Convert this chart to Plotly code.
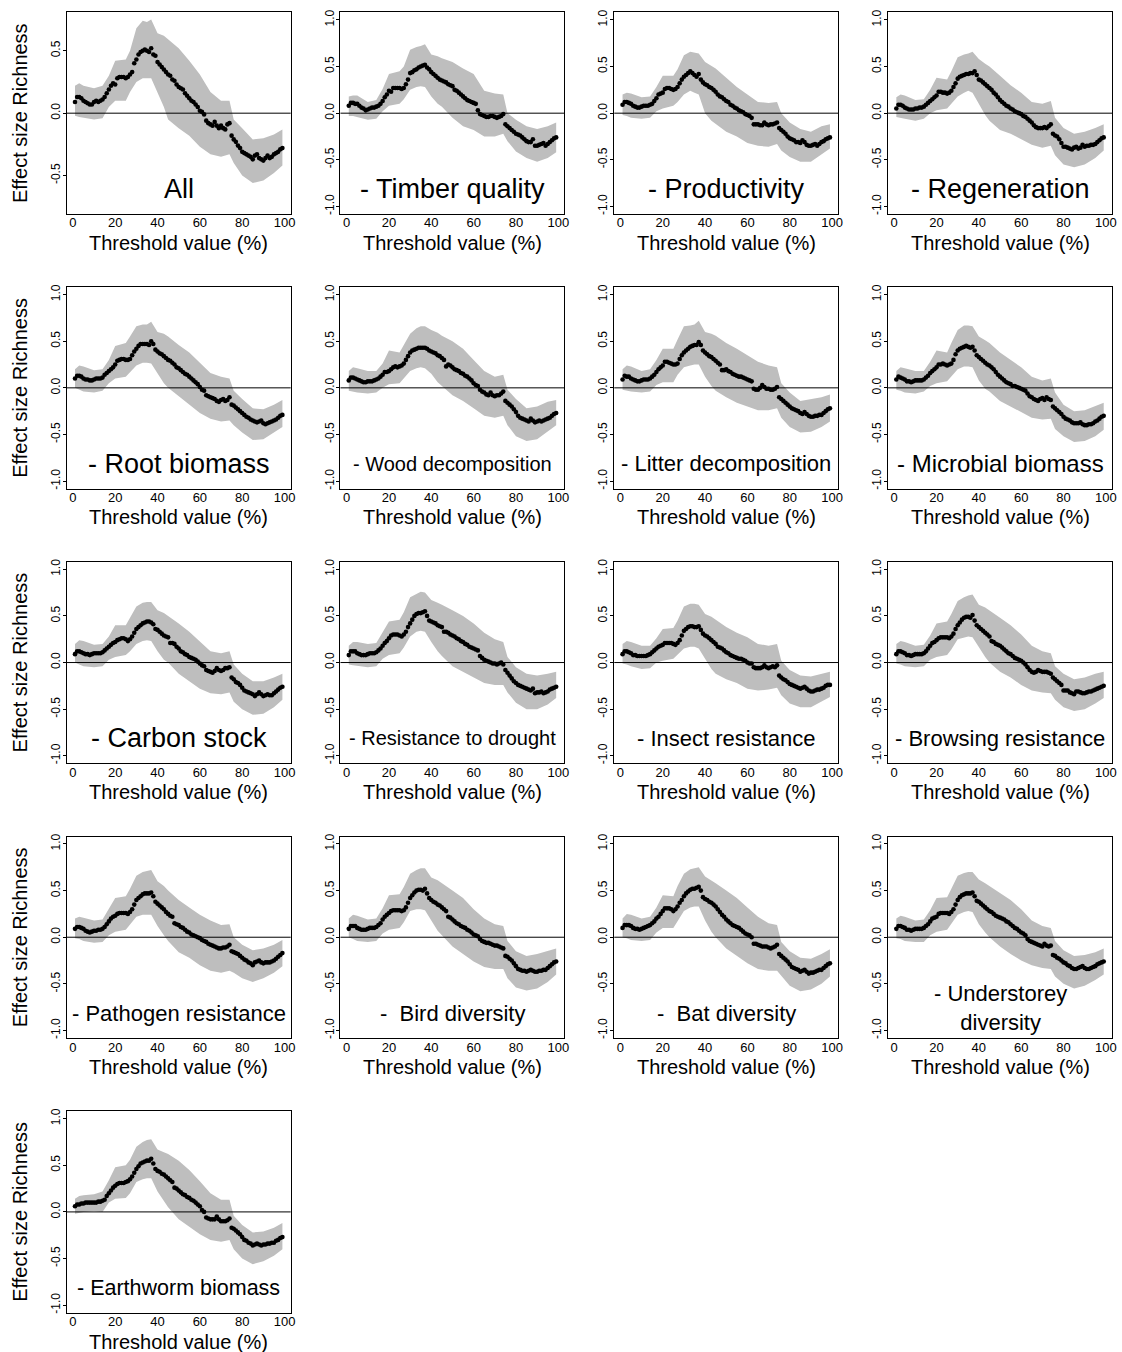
import plotly.graph_objects as go

# ---------------- data ----------------
THRESHOLDS = list(range(1, 100))
RIBBON_X = [1, 3, 5, 10, 14, 17, 20, 25, 27, 30, 33, 35, 37, 40, 43, 45,
            50, 55, 60, 65, 70, 74, 76, 80, 85, 90, 95, 99]
X_TICKS = [0, 20, 40, 60, 80, 100]
Y_TICKS_FIRST = [-0.5, 0.0, 0.5]
Y_TICKS = [-1.0, -0.5, 0.0, 0.5, 1.0]

LABELS = ["All", "- Timber quality", "- Productivity", "- Regeneration",
          "- Root biomass", "- Wood decomposition", "- Litter decomposition",
          "- Microbial biomass", "- Carbon stock", "- Resistance to drought",
          "- Insect resistance", "- Browsing resistance", "- Pathogen resistance",
          "-  Bird diversity", "-  Bat diversity", "- Understorey<br>diversity",
          "- Earthworm biomass"]

MEAN_ALL = [0.09,0.13,0.13,0.12,0.10,0.09,0.08,0.07,0.07,0.09,
            0.10,0.09,0.10,0.11,0.13,0.16,0.19,0.22,0.24,0.23,
            0.28,0.29,0.29,0.29,0.28,0.29,0.31,0.33,0.40,0.43,
            0.47,0.49,0.50,0.51,0.50,0.49,0.52,0.47,0.46,0.41,
            0.39,0.37,0.35,0.33,0.31,0.30,0.27,0.26,0.23,0.21,
            0.20,0.19,0.16,0.14,0.12,0.10,0.09,0.07,0.05,0.02,
            0.01,-0.01,-0.06,-0.08,-0.09,-0.10,-0.07,-0.10,-0.12,-0.10,
            -0.12,-0.13,-0.09,-0.08,-0.18,-0.21,-0.23,-0.26,-0.28,-0.31,
            -0.32,-0.33,-0.34,-0.35,-0.37,-0.34,-0.33,-0.36,-0.37,-0.38,
            -0.36,-0.34,-0.36,-0.35,-0.33,-0.32,-0.31,-0.29,-0.28]
HI_ALL = [0.22,0.24,0.22,0.20,0.22,0.30,0.42,0.43,0.50,0.68,0.74,0.73,0.75,0.64,
          0.62,0.59,0.52,0.42,0.31,0.17,0.10,0.10,-0.05,-0.12,-0.21,-0.20,-0.17,-0.13]
LO_ALL = [-0.02,-0.03,-0.04,-0.05,-0.04,0.05,0.10,0.10,0.17,0.25,0.28,0.28,0.28,0.17,
          0.05,-0.05,-0.12,-0.18,-0.27,-0.33,-0.35,-0.33,-0.40,-0.50,-0.56,-0.54,-0.48,-0.42]

MEAN_TIMBER = [0.08,0.11,0.11,0.10,0.10,0.08,0.06,0.05,0.03,0.04,
               0.05,0.06,0.06,0.07,0.08,0.10,0.13,0.17,0.20,0.24,
               0.23,0.27,0.27,0.27,0.27,0.26,0.27,0.31,0.36,0.43,
               0.44,0.46,0.47,0.49,0.50,0.51,0.52,0.49,0.47,0.44,
               0.42,0.40,0.38,0.36,0.35,0.34,0.33,0.31,0.30,0.29,
               0.25,0.24,0.22,0.20,0.18,0.16,0.14,0.13,0.12,0.11,
               0.10,0.03,-0.01,-0.02,-0.03,-0.04,-0.04,-0.03,-0.03,-0.04,
               -0.05,-0.04,-0.03,-0.01,-0.12,-0.14,-0.16,-0.18,-0.20,-0.22,
               -0.23,-0.24,-0.26,-0.28,-0.30,-0.31,-0.31,-0.28,-0.35,-0.35,
               -0.34,-0.33,-0.32,-0.35,-0.33,-0.31,-0.29,-0.27,-0.26]
HI_TIMBER = [0.18,0.19,0.19,0.12,0.14,0.26,0.42,0.45,0.50,0.68,0.71,0.72,0.74,0.63,
             0.61,0.59,0.55,0.48,0.42,0.24,0.21,0.20,0.00,-0.07,-0.14,-0.17,-0.14,-0.10]
LO_TIMBER = [-0.03,-0.03,-0.04,-0.07,-0.06,0.02,0.08,0.10,0.15,0.25,0.28,0.29,0.28,0.18,
             0.10,0.07,-0.05,-0.14,-0.18,-0.25,-0.25,-0.22,-0.30,-0.41,-0.48,-0.52,-0.48,-0.42]

MEAN_PROD = [0.09,0.12,0.12,0.11,0.10,0.08,0.07,0.06,0.06,0.07,
             0.08,0.08,0.08,0.09,0.10,0.13,0.16,0.20,0.21,0.22,
             0.26,0.27,0.27,0.26,0.25,0.26,0.28,0.32,0.36,0.39,
             0.41,0.43,0.45,0.43,0.41,0.39,0.42,0.36,0.33,0.31,
             0.30,0.28,0.27,0.25,0.23,0.20,0.18,0.17,0.15,0.13,
             0.12,0.09,0.08,0.06,0.05,0.03,0.02,0.01,-0.01,-0.02,
             -0.03,-0.05,-0.12,-0.12,-0.12,-0.13,-0.13,-0.10,-0.12,-0.13,
             -0.12,-0.12,-0.11,-0.10,-0.16,-0.18,-0.20,-0.22,-0.25,-0.27,
             -0.28,-0.29,-0.31,-0.31,-0.32,-0.29,-0.31,-0.34,-0.35,-0.35,
             -0.34,-0.33,-0.35,-0.33,-0.31,-0.30,-0.28,-0.27,-0.26]
HI_PROD = [0.20,0.22,0.21,0.17,0.18,0.28,0.40,0.40,0.47,0.62,0.66,0.65,0.64,0.55,
           0.51,0.48,0.38,0.28,0.20,0.12,0.11,0.12,0.00,-0.10,-0.17,-0.20,-0.14,-0.12]
LO_PROD = [-0.02,-0.03,-0.05,-0.06,-0.05,0.02,0.05,0.08,0.12,0.20,0.24,0.22,0.20,0.00,
           -0.08,-0.12,-0.20,-0.25,-0.32,-0.35,-0.36,-0.33,-0.40,-0.47,-0.52,-0.52,-0.44,-0.38]

MEAN_REGEN = [0.05,0.09,0.09,0.08,0.06,0.05,0.04,0.04,0.04,0.05,
              0.05,0.06,0.06,0.07,0.09,0.11,0.13,0.15,0.17,0.19,
              0.23,0.23,0.22,0.22,0.21,0.22,0.24,0.28,0.32,0.37,
              0.39,0.40,0.41,0.42,0.42,0.43,0.43,0.45,0.41,0.36,
              0.35,0.33,0.31,0.29,0.27,0.25,0.22,0.20,0.17,0.14,
              0.12,0.10,0.08,0.07,0.05,0.04,0.02,0.01,0.00,-0.01,
              -0.03,-0.04,-0.06,-0.08,-0.10,-0.13,-0.15,-0.16,-0.16,-0.16,
              -0.15,-0.16,-0.14,-0.12,-0.22,-0.24,-0.25,-0.28,-0.32,-0.36,
              -0.36,-0.37,-0.38,-0.39,-0.37,-0.36,-0.38,-0.37,-0.34,-0.36,
              -0.35,-0.35,-0.34,-0.34,-0.33,-0.31,-0.29,-0.27,-0.26]
HI_REGEN = [0.17,0.20,0.19,0.14,0.15,0.25,0.38,0.36,0.45,0.60,0.63,0.64,0.66,0.58,
            0.53,0.50,0.40,0.30,0.22,0.12,0.10,0.13,-0.05,-0.16,-0.22,-0.20,-0.16,-0.12]
LO_REGEN = [-0.04,-0.05,-0.06,-0.08,-0.06,0.00,0.03,0.05,0.10,0.18,0.22,0.24,0.22,0.10,
            -0.02,-0.08,-0.18,-0.22,-0.28,-0.34,-0.37,-0.35,-0.45,-0.55,-0.58,-0.55,-0.48,-0.40]

MEAN_ROOT = [0.10,0.13,0.13,0.12,0.10,0.09,0.09,0.08,0.08,0.09,
             0.10,0.10,0.10,0.11,0.14,0.16,0.18,0.20,0.22,0.25,
             0.29,0.30,0.31,0.31,0.30,0.30,0.31,0.35,0.39,0.42,
             0.45,0.47,0.47,0.47,0.47,0.46,0.50,0.47,0.41,0.39,
             0.37,0.36,0.34,0.32,0.30,0.29,0.27,0.25,0.22,0.21,
             0.19,0.17,0.15,0.14,0.12,0.10,0.08,0.06,0.04,0.01,
             -0.02,-0.03,-0.08,-0.09,-0.10,-0.11,-0.12,-0.14,-0.15,-0.13,
             -0.12,-0.14,-0.13,-0.10,-0.18,-0.19,-0.21,-0.23,-0.25,-0.27,
             -0.29,-0.31,-0.32,-0.34,-0.35,-0.36,-0.37,-0.36,-0.35,-0.38,
             -0.39,-0.38,-0.37,-0.36,-0.35,-0.34,-0.32,-0.30,-0.29]
HI_ROOT = [0.20,0.24,0.23,0.19,0.20,0.30,0.45,0.48,0.55,0.66,0.68,0.68,0.71,0.60,
           0.58,0.55,0.46,0.38,0.27,0.16,0.12,0.10,-0.03,-0.12,-0.22,-0.23,-0.18,-0.13]
LO_ROOT = [0.00,-0.02,-0.04,-0.05,-0.03,0.05,0.10,0.12,0.17,0.24,0.27,0.27,0.26,0.15,
           0.05,0.00,-0.10,-0.18,-0.27,-0.33,-0.36,-0.35,-0.40,-0.48,-0.56,-0.55,-0.48,-0.42]

MEAN_WOOD = [0.08,0.11,0.11,0.10,0.09,0.08,0.07,0.06,0.06,0.07,
             0.07,0.07,0.08,0.09,0.10,0.12,0.14,0.17,0.17,0.18,
             0.20,0.22,0.23,0.22,0.23,0.24,0.26,0.30,0.34,0.38,
             0.40,0.41,0.42,0.43,0.43,0.43,0.43,0.42,0.40,0.39,
             0.38,0.37,0.35,0.34,0.32,0.30,0.23,0.25,0.24,0.22,
             0.20,0.19,0.18,0.16,0.15,0.13,0.12,0.10,0.08,0.05,
             0.03,0.02,-0.02,-0.04,-0.05,-0.07,-0.08,-0.05,-0.08,-0.09,
             -0.08,-0.08,-0.06,-0.04,-0.14,-0.16,-0.18,-0.20,-0.23,-0.26,
             -0.30,-0.32,-0.33,-0.34,-0.35,-0.36,-0.33,-0.35,-0.37,-0.36,
             -0.35,-0.36,-0.35,-0.34,-0.33,-0.32,-0.30,-0.28,-0.27]
HI_WOOD = [0.18,0.22,0.21,0.18,0.18,0.26,0.40,0.38,0.46,0.58,0.64,0.66,0.66,0.62,
           0.59,0.56,0.50,0.42,0.30,0.18,0.12,0.14,-0.02,-0.12,-0.22,-0.20,-0.15,-0.13]
LO_WOOD = [-0.03,-0.04,-0.05,-0.06,-0.05,0.00,0.04,0.05,0.10,0.18,0.21,0.22,0.21,0.15,
           0.06,0.02,-0.08,-0.14,-0.22,-0.30,-0.32,-0.30,-0.40,-0.52,-0.57,-0.55,-0.47,-0.40]

MEAN_LITTER = [0.09,0.13,0.12,0.12,0.10,0.09,0.08,0.07,0.07,0.08,
               0.09,0.09,0.09,0.10,0.12,0.14,0.17,0.20,0.22,0.24,
               0.28,0.28,0.27,0.26,0.25,0.25,0.26,0.31,0.35,0.38,
               0.40,0.42,0.44,0.45,0.46,0.46,0.49,0.46,0.40,0.38,
               0.36,0.34,0.33,0.31,0.29,0.27,0.25,0.19,0.19,0.20,
               0.18,0.17,0.15,0.14,0.13,0.12,0.12,0.11,0.10,0.09,
               0.08,0.07,-0.01,-0.02,-0.02,0.00,0.03,0.01,-0.01,-0.01,
               -0.02,-0.02,-0.01,0.01,-0.10,-0.12,-0.14,-0.16,-0.18,-0.20,
               -0.22,-0.23,-0.24,-0.25,-0.27,-0.28,-0.26,-0.28,-0.30,-0.31,
               -0.31,-0.30,-0.30,-0.29,-0.29,-0.27,-0.25,-0.23,-0.22]
HI_LITTER = [0.20,0.24,0.23,0.18,0.20,0.30,0.42,0.42,0.52,0.66,0.67,0.68,0.72,0.60,
             0.58,0.56,0.48,0.42,0.35,0.28,0.24,0.22,0.05,-0.05,-0.14,-0.12,-0.10,-0.07]
LO_LITTER = [-0.02,-0.03,-0.04,-0.05,-0.04,0.03,0.06,0.06,0.14,0.22,0.24,0.25,0.25,0.12,
             0.02,-0.03,-0.10,-0.16,-0.20,-0.24,-0.24,-0.22,-0.32,-0.42,-0.48,-0.47,-0.42,-0.36]

MEAN_MICRO = [0.09,0.12,0.11,0.10,0.09,0.07,0.07,0.06,0.07,0.08,
              0.08,0.08,0.08,0.09,0.11,0.13,0.16,0.18,0.20,0.22,
              0.25,0.25,0.26,0.25,0.24,0.25,0.26,0.30,0.36,0.40,
              0.42,0.43,0.44,0.45,0.44,0.43,0.44,0.40,0.35,0.33,
              0.31,0.29,0.27,0.25,0.24,0.22,0.20,0.17,0.14,0.12,
              0.10,0.08,0.06,0.05,0.04,0.02,0.02,0.01,0.00,-0.01,
              -0.02,-0.03,-0.06,-0.09,-0.10,-0.12,-0.13,-0.14,-0.12,-0.11,
              -0.13,-0.10,-0.12,-0.13,-0.20,-0.22,-0.24,-0.26,-0.28,-0.31,
              -0.33,-0.34,-0.35,-0.37,-0.38,-0.38,-0.38,-0.37,-0.39,-0.40,
              -0.40,-0.39,-0.39,-0.38,-0.36,-0.35,-0.33,-0.31,-0.30]
HI_MICRO = [0.18,0.22,0.21,0.18,0.18,0.28,0.40,0.38,0.48,0.62,0.67,0.67,0.66,0.55,
            0.51,0.48,0.38,0.30,0.22,0.12,0.08,0.10,-0.05,-0.18,-0.25,-0.24,-0.20,-0.16]
LO_MICRO = [-0.02,-0.03,-0.05,-0.06,-0.04,0.02,0.05,0.07,0.12,0.20,0.23,0.23,0.22,0.08,
            -0.01,-0.04,-0.14,-0.20,-0.26,-0.32,-0.34,-0.33,-0.44,-0.52,-0.58,-0.57,-0.52,-0.45]

MEAN_CARBON = [0.09,0.12,0.12,0.11,0.10,0.09,0.09,0.08,0.09,0.10,
               0.10,0.10,0.10,0.11,0.13,0.15,0.17,0.19,0.21,0.22,
               0.24,0.25,0.26,0.26,0.25,0.23,0.25,0.28,0.32,0.36,
               0.38,0.40,0.42,0.43,0.44,0.44,0.43,0.41,0.36,0.35,
               0.33,0.31,0.29,0.28,0.27,0.21,0.21,0.20,0.17,0.15,
               0.12,0.11,0.09,0.08,0.06,0.05,0.04,0.03,0.01,-0.01,
               -0.03,-0.04,-0.08,-0.09,-0.10,-0.11,-0.09,-0.06,-0.08,-0.09,
               -0.08,-0.06,-0.06,-0.05,-0.16,-0.18,-0.21,-0.22,-0.24,-0.27,
               -0.30,-0.31,-0.32,-0.33,-0.34,-0.36,-0.34,-0.32,-0.34,-0.36,
               -0.35,-0.34,-0.35,-0.35,-0.33,-0.31,-0.29,-0.27,-0.26]
HI_CARBON = [0.20,0.24,0.23,0.19,0.20,0.28,0.40,0.40,0.48,0.60,0.64,0.65,0.65,0.56,
             0.53,0.50,0.42,0.33,0.22,0.12,0.10,0.12,-0.02,-0.12,-0.20,-0.20,-0.16,-0.12]
LO_CARBON = [0.00,-0.02,-0.04,-0.05,-0.04,0.03,0.06,0.08,0.12,0.20,0.23,0.24,0.23,0.12,
             0.03,0.00,-0.12,-0.20,-0.28,-0.33,-0.34,-0.32,-0.42,-0.50,-0.56,-0.55,-0.48,-0.40]

MEAN_DROUGHT = [0.08,0.12,0.12,0.12,0.10,0.09,0.08,0.08,0.08,0.09,
                0.10,0.10,0.10,0.11,0.13,0.15,0.18,0.21,0.23,0.26,
                0.29,0.30,0.30,0.30,0.29,0.28,0.30,0.33,0.38,0.42,
                0.46,0.50,0.52,0.53,0.53,0.54,0.55,0.50,0.45,0.44,
                0.43,0.42,0.40,0.39,0.38,0.33,0.33,0.32,0.30,0.29,
                0.28,0.26,0.25,0.23,0.22,0.20,0.19,0.17,0.16,0.15,
                0.14,0.13,0.07,0.05,0.03,0.02,0.01,0.00,-0.01,-0.01,
                -0.02,-0.01,0.00,-0.02,-0.08,-0.11,-0.14,-0.17,-0.20,-0.22,
                -0.24,-0.25,-0.26,-0.27,-0.28,-0.29,-0.30,-0.28,-0.33,-0.32,
                -0.32,-0.31,-0.33,-0.32,-0.31,-0.29,-0.28,-0.27,-0.26]
HI_DROUGHT = [0.18,0.22,0.22,0.20,0.21,0.32,0.44,0.46,0.54,0.70,0.74,0.76,0.75,0.67,
              0.64,0.62,0.56,0.50,0.42,0.32,0.25,0.22,0.06,-0.05,-0.12,-0.14,-0.12,-0.10]
LO_DROUGHT = [-0.02,-0.03,-0.04,-0.05,-0.04,0.04,0.08,0.10,0.16,0.28,0.33,0.34,0.33,0.22,
              0.12,0.07,-0.04,-0.10,-0.16,-0.22,-0.24,-0.24,-0.32,-0.43,-0.50,-0.50,-0.45,-0.38]

MEAN_INSECT = [0.09,0.12,0.12,0.11,0.10,0.08,0.08,0.07,0.07,0.07,
               0.07,0.07,0.08,0.09,0.11,0.13,0.15,0.17,0.18,0.19,
               0.21,0.21,0.21,0.21,0.20,0.19,0.21,0.24,0.29,0.34,
               0.36,0.38,0.39,0.39,0.38,0.38,0.39,0.35,0.31,0.29,
               0.28,0.26,0.24,0.22,0.20,0.17,0.16,0.15,0.13,0.11,
               0.10,0.08,0.07,0.06,0.05,0.04,0.04,0.03,0.02,0.00,
               -0.01,-0.01,-0.05,-0.06,-0.06,-0.06,-0.05,-0.03,-0.05,-0.06,
               -0.05,-0.04,-0.05,-0.03,-0.14,-0.16,-0.18,-0.19,-0.21,-0.23,
               -0.24,-0.25,-0.26,-0.27,-0.28,-0.27,-0.26,-0.28,-0.30,-0.31,
               -0.31,-0.30,-0.29,-0.29,-0.28,-0.27,-0.25,-0.24,-0.24]
HI_INSECT = [0.20,0.23,0.22,0.18,0.18,0.26,0.36,0.37,0.45,0.60,0.63,0.63,0.62,0.52,
             0.49,0.46,0.38,0.32,0.27,0.20,0.18,0.20,0.02,-0.08,-0.14,-0.15,-0.12,-0.10]
LO_INSECT = [-0.01,-0.02,-0.04,-0.07,-0.06,0.00,0.02,0.04,0.08,0.15,0.17,0.17,0.15,0.04,
             -0.07,-0.12,-0.18,-0.22,-0.28,-0.30,-0.29,-0.27,-0.35,-0.44,-0.48,-0.48,-0.42,-0.37]

MEAN_BROWSE = [0.09,0.12,0.12,0.11,0.10,0.08,0.08,0.07,0.08,0.09,
               0.09,0.09,0.09,0.10,0.12,0.15,0.18,0.21,0.22,0.24,
               0.26,0.27,0.27,0.27,0.27,0.26,0.28,0.31,0.36,0.40,
               0.43,0.46,0.48,0.49,0.49,0.48,0.51,0.45,0.40,0.38,
               0.36,0.34,0.32,0.30,0.28,0.23,0.22,0.20,0.19,0.18,
               0.16,0.14,0.12,0.10,0.09,0.07,0.05,0.04,0.03,0.02,
               0.00,-0.02,-0.05,-0.08,-0.10,-0.11,-0.10,-0.08,-0.09,-0.10,
               -0.10,-0.10,-0.11,-0.12,-0.16,-0.18,-0.20,-0.22,-0.24,-0.30,
               -0.30,-0.30,-0.32,-0.33,-0.34,-0.31,-0.31,-0.32,-0.33,-0.33,
               -0.32,-0.31,-0.31,-0.30,-0.29,-0.28,-0.27,-0.26,-0.25]
HI_BROWSE = [0.20,0.23,0.22,0.18,0.19,0.29,0.42,0.44,0.52,0.66,0.70,0.72,0.73,0.62,
             0.59,0.56,0.48,0.40,0.30,0.18,0.12,0.10,-0.04,-0.12,-0.18,-0.16,-0.12,-0.10]
LO_BROWSE = [-0.01,-0.02,-0.04,-0.05,-0.04,0.03,0.06,0.08,0.14,0.25,0.27,0.28,0.27,0.16,
             0.06,0.00,-0.10,-0.16,-0.24,-0.30,-0.32,-0.33,-0.40,-0.48,-0.52,-0.50,-0.44,-0.38]

MEAN_PATHO = [0.09,0.11,0.11,0.10,0.09,0.07,0.06,0.05,0.06,0.07,
              0.07,0.08,0.08,0.09,0.11,0.14,0.17,0.20,0.22,0.23,
              0.25,0.26,0.26,0.26,0.26,0.25,0.27,0.30,0.35,0.40,
              0.42,0.44,0.46,0.47,0.47,0.47,0.48,0.44,0.38,0.36,
              0.34,0.32,0.30,0.27,0.25,0.23,0.22,0.15,0.14,0.13,
              0.11,0.10,0.08,0.06,0.05,0.03,0.02,0.01,0.00,-0.01,
              -0.03,-0.04,-0.05,-0.07,-0.08,-0.09,-0.10,-0.11,-0.12,-0.12,
              -0.11,-0.11,-0.10,-0.08,-0.15,-0.16,-0.17,-0.18,-0.20,-0.22,
              -0.24,-0.25,-0.27,-0.28,-0.30,-0.27,-0.26,-0.25,-0.27,-0.28,
              -0.27,-0.27,-0.27,-0.26,-0.25,-0.23,-0.21,-0.19,-0.17]
HI_PATHO = [0.20,0.22,0.21,0.18,0.19,0.30,0.42,0.44,0.52,0.66,0.70,0.71,0.72,0.60,
            0.55,0.50,0.40,0.32,0.24,0.18,0.13,0.14,0.00,-0.08,-0.14,-0.12,-0.08,-0.03]
LO_PATHO = [-0.01,-0.02,-0.04,-0.06,-0.05,0.02,0.06,0.08,0.14,0.22,0.24,0.24,0.24,0.12,
            0.02,-0.04,-0.16,-0.22,-0.30,-0.36,-0.38,-0.36,-0.38,-0.44,-0.48,-0.44,-0.38,-0.31]

MEAN_BIRD = [0.09,0.12,0.12,0.12,0.10,0.09,0.08,0.08,0.08,0.09,
             0.10,0.10,0.10,0.11,0.13,0.15,0.19,0.22,0.24,0.26,
             0.28,0.29,0.29,0.29,0.29,0.28,0.29,0.32,0.37,0.42,
             0.45,0.48,0.50,0.51,0.51,0.50,0.52,0.47,0.42,0.40,
             0.38,0.37,0.35,0.34,0.32,0.30,0.28,0.22,0.21,0.19,
             0.17,0.15,0.14,0.12,0.11,0.10,0.08,0.07,0.05,0.03,
             0.02,0.01,-0.02,-0.04,-0.05,-0.06,-0.06,-0.07,-0.08,-0.09,
             -0.09,-0.10,-0.11,-0.12,-0.20,-0.21,-0.23,-0.25,-0.28,-0.31,
             -0.34,-0.35,-0.36,-0.36,-0.37,-0.36,-0.35,-0.36,-0.37,-0.37,
             -0.36,-0.36,-0.35,-0.35,-0.33,-0.31,-0.29,-0.27,-0.26]
HI_BIRD = [0.20,0.24,0.23,0.19,0.20,0.31,0.45,0.46,0.54,0.68,0.72,0.74,0.74,0.64,
           0.61,0.58,0.50,0.42,0.30,0.20,0.14,0.12,-0.04,-0.15,-0.20,-0.18,-0.15,-0.12]
LO_BIRD = [0.00,-0.02,-0.04,-0.05,-0.04,0.04,0.08,0.10,0.16,0.28,0.30,0.30,0.29,0.18,
           0.07,0.02,-0.10,-0.18,-0.26,-0.32,-0.34,-0.34,-0.44,-0.54,-0.57,-0.55,-0.48,-0.40]

MEAN_BAT = [0.10,0.13,0.13,0.13,0.12,0.10,0.09,0.09,0.08,0.09,
            0.10,0.11,0.12,0.13,0.15,0.17,0.20,0.22,0.25,0.28,
            0.31,0.31,0.31,0.30,0.28,0.30,0.33,0.37,0.40,0.44,
            0.47,0.49,0.51,0.52,0.52,0.53,0.54,0.50,0.43,0.41,
            0.40,0.38,0.37,0.35,0.33,0.30,0.27,0.24,0.22,0.19,
            0.17,0.15,0.13,0.12,0.11,0.10,0.08,0.06,0.04,0.03,
            0.02,0.00,-0.07,-0.07,-0.08,-0.09,-0.10,-0.10,-0.10,-0.11,
            -0.12,-0.11,-0.10,-0.08,-0.18,-0.20,-0.22,-0.24,-0.26,-0.29,
            -0.32,-0.33,-0.34,-0.35,-0.37,-0.36,-0.35,-0.37,-0.39,-0.38,
            -0.38,-0.37,-0.36,-0.35,-0.35,-0.33,-0.31,-0.29,-0.28]
HI_BAT = [0.20,0.25,0.24,0.20,0.22,0.32,0.45,0.44,0.55,0.68,0.73,0.74,0.75,0.65,
          0.61,0.58,0.50,0.42,0.32,0.22,0.15,0.13,-0.05,-0.15,-0.22,-0.23,-0.18,-0.13]
LO_BAT = [0.00,-0.01,-0.03,-0.04,-0.03,0.05,0.10,0.10,0.17,0.28,0.32,0.33,0.33,0.18,
          0.06,0.00,-0.12,-0.20,-0.28,-0.34,-0.36,-0.36,-0.42,-0.52,-0.58,-0.56,-0.50,-0.42]

MEAN_UNDER = [0.09,0.12,0.12,0.11,0.10,0.08,0.08,0.07,0.08,0.09,
              0.09,0.09,0.09,0.10,0.12,0.14,0.17,0.20,0.21,0.22,
              0.25,0.26,0.26,0.26,0.26,0.25,0.27,0.30,0.35,0.40,
              0.43,0.45,0.46,0.47,0.47,0.47,0.48,0.44,0.39,0.38,
              0.36,0.34,0.32,0.30,0.28,0.27,0.25,0.23,0.22,0.21,
              0.20,0.19,0.17,0.16,0.14,0.12,0.10,0.09,0.07,0.05,
              0.04,0.02,-0.02,-0.04,-0.05,-0.06,-0.07,-0.08,-0.09,-0.10,
              -0.07,-0.09,-0.10,-0.09,-0.19,-0.20,-0.22,-0.23,-0.25,-0.27,
              -0.28,-0.30,-0.31,-0.33,-0.34,-0.34,-0.33,-0.32,-0.31,-0.33,
              -0.34,-0.34,-0.33,-0.32,-0.31,-0.29,-0.28,-0.27,-0.26]
HI_UNDER = [0.20,0.23,0.22,0.18,0.19,0.29,0.42,0.43,0.52,0.66,0.69,0.70,0.70,0.62,
            0.58,0.55,0.48,0.40,0.30,0.18,0.12,0.10,-0.04,-0.14,-0.20,-0.19,-0.16,-0.12]
LO_UNDER = [-0.01,-0.02,-0.04,-0.05,-0.05,0.02,0.06,0.08,0.14,0.24,0.27,0.28,0.27,0.14,
            0.05,0.00,-0.10,-0.18,-0.25,-0.30,-0.33,-0.34,-0.42,-0.50,-0.55,-0.52,-0.46,-0.40]

MEAN_WORM = [0.06,0.08,0.08,0.09,0.09,0.10,0.10,0.10,0.10,0.10,
             0.10,0.11,0.11,0.12,0.13,0.17,0.20,0.23,0.26,0.28,
             0.30,0.31,0.31,0.31,0.32,0.33,0.35,0.38,0.42,0.46,
             0.49,0.52,0.53,0.54,0.55,0.55,0.57,0.52,0.46,0.44,
             0.43,0.41,0.40,0.38,0.36,0.34,0.32,0.26,0.25,0.23,
             0.21,0.19,0.18,0.16,0.15,0.13,0.12,0.10,0.08,0.06,
             0.02,0.00,-0.06,-0.07,-0.08,-0.08,-0.08,-0.05,-0.08,-0.10,
             -0.10,-0.10,-0.09,-0.07,-0.17,-0.18,-0.20,-0.22,-0.24,-0.27,
             -0.30,-0.31,-0.33,-0.34,-0.36,-0.35,-0.34,-0.35,-0.36,-0.35,
             -0.35,-0.34,-0.34,-0.33,-0.33,-0.31,-0.30,-0.28,-0.27]
HI_WORM = [0.14,0.17,0.18,0.19,0.22,0.34,0.48,0.50,0.56,0.70,0.75,0.77,0.78,0.67,
           0.64,0.62,0.55,0.45,0.33,0.20,0.13,0.13,-0.04,-0.14,-0.22,-0.21,-0.17,-0.12]
LO_WORM = [-0.02,-0.01,0.00,0.01,0.00,0.10,0.14,0.15,0.20,0.32,0.35,0.36,0.36,0.22,
           0.12,0.05,-0.08,-0.16,-0.24,-0.30,-0.32,-0.30,-0.40,-0.50,-0.56,-0.53,-0.47,-0.40]

MEANS = [MEAN_ALL, MEAN_TIMBER, MEAN_PROD, MEAN_REGEN, MEAN_ROOT, MEAN_WOOD,
         MEAN_LITTER, MEAN_MICRO, MEAN_CARBON, MEAN_DROUGHT, MEAN_INSECT,
         MEAN_BROWSE, MEAN_PATHO, MEAN_BIRD, MEAN_BAT, MEAN_UNDER, MEAN_WORM]
HIS = [HI_ALL, HI_TIMBER, HI_PROD, HI_REGEN, HI_ROOT, HI_WOOD, HI_LITTER,
       HI_MICRO, HI_CARBON, HI_DROUGHT, HI_INSECT, HI_BROWSE, HI_PATHO,
       HI_BIRD, HI_BAT, HI_UNDER, HI_WORM]
LOS = [LO_ALL, LO_TIMBER, LO_PROD, LO_REGEN, LO_ROOT, LO_WOOD, LO_LITTER,
       LO_MICRO, LO_CARBON, LO_DROUGHT, LO_INSECT, LO_BROWSE, LO_PATHO,
       LO_BIRD, LO_BAT, LO_UNDER, LO_WORM]

for m, h, l in zip(MEANS, HIS, LOS):
    assert len(m) == len(THRESHOLDS), len(m)
    assert len(h) == len(RIBBON_X) and len(l) == len(RIBBON_X), (len(h), len(l))

# ---------------- styling / layout ----------------
W, H = 1122, 1352
FONT = "Liberation Sans, Arial, sans-serif"
LABEL_SIZES = [27, 27, 27, 27, 27, 20, 22, 24, 27, 20, 22, 22, 22, 22, 22, 22, 21.5]
COL_LEFT, COL_STEP, PW = 67, 275, 225
ROW_TOP, ROW_STEP, PH = 9.5, 275.5, 202
X_RANGE = [-2.92, 102.92]
Y_RANGE = [-1.08, 1.08]
Y_RANGE_FIRST = [-0.807, 0.807]
RIBBON_COLOR = "#BEBEBE"


def py(p):
    return 1 - p / H


fig = go.Figure()
layout = dict(width=W, height=H, margin=dict(l=0, r=0, t=0, b=0),
              paper_bgcolor="white", plot_bgcolor="white", showlegend=False,
              font=dict(family=FONT, color="black"))
annotations = []
shapes = []

for i in range(len(MEANS)):
    r, c = divmod(i, 4)
    x0 = COL_LEFT + COL_STEP * c
    top = ROW_TOP + ROW_STEP * r
    bottom = top + PH
    sfx = "" if i == 0 else str(i + 1)
    xref, yref = "x" + sfx, "y" + sfx

    first = (i == 0)
    yt = Y_TICKS_FIRST if first else Y_TICKS
    layout["xaxis" + sfx] = dict(
        domain=[x0 / W, (x0 + PW) / W], anchor=yref, range=X_RANGE,
        tickvals=X_TICKS, ticktext=[str(v) for v in X_TICKS],
        ticks="", ticklabelstandoff=-3,
        showline=True, mirror=True, linecolor="black", linewidth=1,
        showgrid=False, zeroline=False,
        tickfont=dict(size=13, family=FONT, color="black"))
    layout["yaxis" + sfx] = dict(
        domain=[py(bottom), py(top)], anchor=xref,
        range=Y_RANGE_FIRST if first else Y_RANGE,
        tickvals=yt, ticktext=["%.1f" % v for v in yt], tickangle=-90,
        ticks="outside", ticklen=3, tickwidth=1, tickcolor="black",
        ticklabelstandoff=-2,
        showline=True, mirror=True, linecolor="black", linewidth=1,
        showgrid=False, zeroline=False,
        tickfont=dict(size=12, family=FONT, color="black"))

    # confidence ribbon
    fig.add_trace(go.Scatter(
        x=RIBBON_X + RIBBON_X[::-1], y=HIS[i] + LOS[i][::-1],
        fill="toself", fillcolor=RIBBON_COLOR, line=dict(width=0),
        mode="lines", hoverinfo="skip", xaxis=xref, yaxis=yref))
    # effect sizes
    fig.add_trace(go.Scatter(
        x=THRESHOLDS, y=MEANS[i], mode="markers",
        marker=dict(size=4.6, color="black", line=dict(width=0)),
        xaxis=xref, yaxis=yref))
    # zero reference line
    shapes.append(dict(type="line", xref=xref + " domain", yref=yref,
                       x0=0, x1=1, y0=0, y1=0,
                       line=dict(color="black", width=1), layer="above"))

    # panel label
    lab = LABELS[i]
    offset = 30 if "<br>" in lab else 25
    annotations.append(dict(
        text=lab, xref="paper", yref="paper",
        x=(x0 + PW / 2) / W, y=py(bottom - offset),
        xanchor="center", yanchor="middle", showarrow=False,
        font=dict(size=LABEL_SIZES[i], family=FONT, color="black")))
    # x-axis title
    annotations.append(dict(
        text="Threshold value (%)", xref="paper", yref="paper",
        x=(x0 + PW / 2) / W, y=py(bottom + 29),
        xanchor="center", yanchor="middle", showarrow=False,
        font=dict(size=20, family=FONT, color="black")))
    # y-axis title (first column only)
    if c == 0:
        annotations.append(dict(
            text="Effect size Richness", xref="paper", yref="paper",
            x=20 / W, y=py(top + PH / 2), textangle=-90,
            xanchor="center", yanchor="middle", showarrow=False,
            font=dict(size=20, family=FONT, color="black")))

layout["annotations"] = annotations
layout["shapes"] = shapes
fig.update_layout(**layout)
fig.write_html(
    "out.html",
    config={"displayModeBar": False},
    post_script="document.body.style.margin='0px';"
                "document.body.style.padding='0px';"
                "document.body.style.overflow='hidden';")
